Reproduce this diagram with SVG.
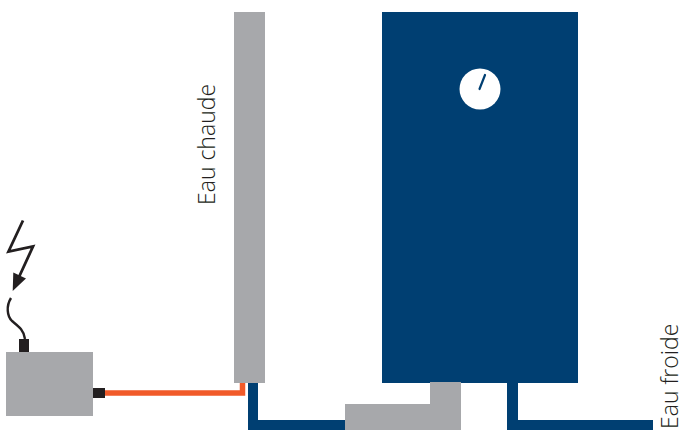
<svg xmlns="http://www.w3.org/2000/svg" width="679" height="430" viewBox="0 0 679 430">
<style>
.gray{fill:#a7a8ab}
.navy{fill:#003f72}
.blk{fill:#231f20}
.lbl{font-family:"Open Sans","Noto Sans",sans-serif;font-weight:300;font-size:23px;fill:#231f20}
.wire{fill:none;stroke:#231f20;stroke-width:2.4}
</style>
<g id="connectors">
<path class="navy" d="M248 383H258V420H345V430H248Z"/>
<path class="navy" d="M507 383H518V420H653V430H507Z"/>
<path d="M105 393H242.500V383" fill="none" stroke="#f15a29" stroke-width="5.500"/>
<path class="wire" d="M11 298C6 306 7 316 12 321C18 326 24 330 25 339"/>
</g>
<g id="hot-pipe"><rect class="gray" x="234" y="12" width="31" height="371"/></g>
<g id="tank">
<rect class="navy" x="382" y="12" width="196" height="371"/>
<circle cx="480" cy="89" r="20.500" fill="#fff"/>
<path d="M479.500 89L485 75" stroke="#003f72" stroke-width="2.200" stroke-linecap="round"/>
</g>
<g id="mixer"><path class="gray" d="M345 404H430V382H461V430H345Z"/></g>
<g id="box">
<rect class="gray" x="6" y="352" width="87" height="64"/>
<rect class="blk" x="19" y="339" width="10" height="13"/>
<rect class="blk" x="93" y="388" width="12" height="10"/>
</g>
<g id="lightning">
<path class="wire" style="stroke-width:2.800" d="M23 220.500L8.500 251.500L33 246.500L19 277"/>
<path class="blk" d="M12.700 291L13.300 272.500L26 278.500Z"/>
</g>
<g id="label-hot"><text class="lbl" transform="translate(215 205) rotate(-90)">Eau chaude</text></g>
<g id="label-cold"><text class="lbl" transform="translate(678 429) rotate(-90)">Eau froide</text></g>
</svg>
